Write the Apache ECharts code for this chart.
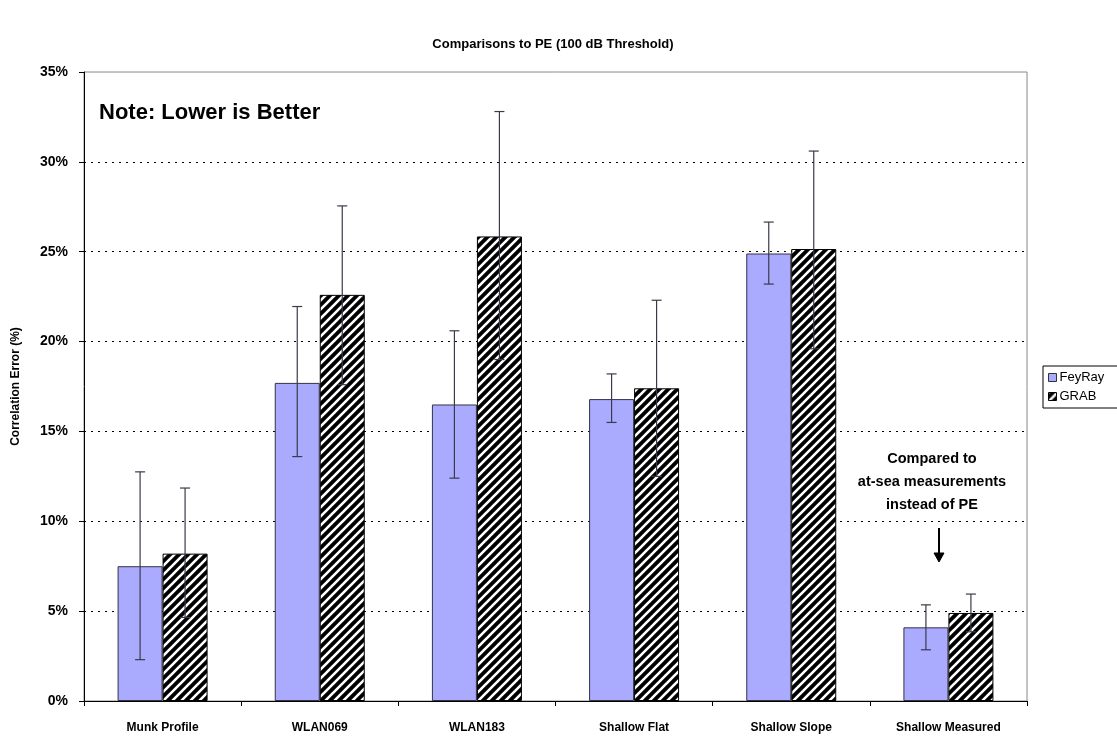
<!DOCTYPE html>
<html>
<head>
<meta charset="utf-8">
<script src="https://cdn.jsdelivr.net/npm/echarts@6/dist/echarts.min.js"></script>
<style>
html,body{margin:0;padding:0;background:#fff;}
#chart{width:1117px;height:738px;}
</style>
</head>
<body>
<div id="chart"></div>
<script>
const categories = ['Munk Profile','WLAN069','WLAN183','Shallow Flat','Shallow Slope','Shallow Measured'];
const feyray     = [7.5, 17.7, 16.5, 16.8, 24.9, 4.1];
const feyrayLow  = [2.3, 13.6, 12.4, 15.5, 23.2, 2.85];
const feyrayHigh = [12.75, 21.95, 20.6, 18.2, 26.65, 5.35];
const grab       = [8.2, 22.6, 25.85, 17.4, 25.15, 4.9];
const grabLow    = [4.65, 17.6, 19.0, 12.5, 19.6, 3.85];
const grabHigh   = [11.85, 27.55, 32.8, 22.3, 30.6, 5.95];
const yTicks = [0,5,10,15,20,25,30,35];

const FONT = '"Liberation Sans", Arial, sans-serif';

function makePattern(){
  const s = 9;
  const c = document.createElement('canvas');
  c.width = s; c.height = s;
  const g = c.getContext('2d');
  g.fillStyle = '#000';
  g.fillRect(0,0,s,s);
  g.strokeStyle = '#fff';
  g.lineWidth = 2.6;
  g.beginPath();
  g.moveTo(-2, s+2); g.lineTo(s+2, -2);
  g.moveTo(-2, 2); g.lineTo(2, -2);
  g.moveTo(s-2, s+2); g.lineTo(s+2, s-2);
  g.stroke();
  return c;
}
const pattern = {image: makePattern(), repeat: 'repeat'};

const BAR_W = 45;
function errSeries(low, high, offset){
  return {
    type: 'custom',
    silent: true,
    z: 10,
    data: categories.map((c,i)=>[i, low[i], high[i]]),
    encode: {x: 0, y: [1,2]},
    renderItem: function(params, api){
      const i = api.value(0);
      const pLow = api.coord([i, api.value(1)]);
      const pHigh = api.coord([i, api.value(2)]);
      const x = pLow[0] + offset;
      const cap = 5;
      const st = {stroke: '#3a3a4a', lineWidth: 1.2};
      return {type:'group', children:[
        {type:'line', shape:{x1:x, y1:pLow[1], x2:x, y2:pHigh[1]}, style:st},
        {type:'line', shape:{x1:x-cap, y1:pLow[1], x2:x+cap, y2:pLow[1]}, style:st},
        {type:'line', shape:{x1:x-cap, y1:pHigh[1], x2:x+cap, y2:pHigh[1]}, style:st}
      ]};
    }
  };
}

const chart = echarts.init(document.getElementById('chart'), null, {renderer:'canvas'});
chart.setOption({
  backgroundColor: '#fff',
  animation: false,
  title: {
    text: 'Comparisons to PE (100 dB Threshold)',
    left: 548, top: 33, textAlign: 'center',
    textStyle: {fontFamily: FONT, fontSize: 13, fontWeight: 'bold', color: '#000'}
  },
  legend: {
    data: [
      {name:'FeyRay', icon:'rect', itemStyle:{color:'#aaaaff', borderColor:'#333', borderWidth:1}},
      {name:'GRAB', icon:'rect', itemStyle:{color:pattern, borderColor:'#000', borderWidth:1}}
    ],
    orient: 'vertical',
    left: 1043, top: 366,
    itemWidth: 8, itemHeight: 8, itemGap: 6,
    padding: [5, 14, 5, 5],
    borderColor: '#000', borderWidth: 1, borderRadius: 0,
    backgroundColor: '#fff',
    textStyle: {fontFamily: FONT, fontSize: 13, color: '#000', padding: [0,0,0,-2]}
  },
  grid: {
    left: 84, right: 90, top: 72, bottom: 37,
    show: true, borderColor: '#888', borderWidth: 1
  },
  xAxis: {
    type: 'category',
    data: categories,
    axisLine: {lineStyle: {color: '#000', width: 1}},
    axisTick: {show: true, length: 5, lineStyle: {color: '#000'}},
    axisLabel: {fontFamily: FONT, fontSize: 12, fontWeight: 'bold', color: '#000', margin: 21},
    splitLine: {show: false}
  },
  yAxis: {
    type: 'value',
    min: 0, max: 35, interval: 5,
    name: 'Correlation Error (%)',
    nameLocation: 'middle',
    nameGap: 62,
    nameTextStyle: {fontFamily: FONT, fontSize: 12, fontWeight: 'bold', color: '#000'},
    axisLine: {show: true, lineStyle: {color: '#000', width: 1}},
    axisTick: {show: true, length: 5, lineStyle: {color: '#000'}},
    axisLabel: {fontFamily: FONT, fontSize: 14, fontWeight: 'bold', color: '#000', margin: 16,
      formatter: v => yTicks.includes(v) ? v + '%' : ''},
    splitLine: {show: true, lineStyle: {
      color: ['transparent','#000','#000','#000','#000','#000','#000','transparent'],
      type: [2, 5], width: 1}}
  },
  series: [
    {name:'FeyRay', type:'bar', data: feyray, barWidth: BAR_W, barGap: '0%',
     itemStyle: {color:'#aaaaff', borderColor:'#333344', borderWidth: 1}},
    {name:'GRAB', type:'bar', data: grab, barWidth: BAR_W, barGap: '0%',
     itemStyle: {color: pattern, borderColor:'#000', borderWidth: 1}},
    errSeries(feyrayLow, feyrayHigh, -BAR_W/2),
    errSeries(grabLow, grabHigh, BAR_W/2)
  ],
  graphic: [
    {type:'text', left: 99, top: 102,
     style:{text:'Note: Lower is Better', fontFamily: FONT, fontSize: 22, fontWeight:'bold', fill:'#000'}},
    {type:'text', x: 932, y: 447,
     style:{text:'Compared to\nat-sea measurements\ninstead of PE', fontFamily: FONT, fontSize: 14.5, fontWeight:'bold',
            fill:'#000', align:'center', lineHeight: 23}},
    {type:'line', shape:{x1:939, y1:528, x2:939, y2:556}, style:{stroke:'#000', lineWidth:2}},
    {type:'polygon', shape:{points:[[934,553],[944,553],[939,562]]}, style:{fill:'#000', stroke:'#000', lineWidth:1}}
  ]
});
</script>
</body>
</html>
